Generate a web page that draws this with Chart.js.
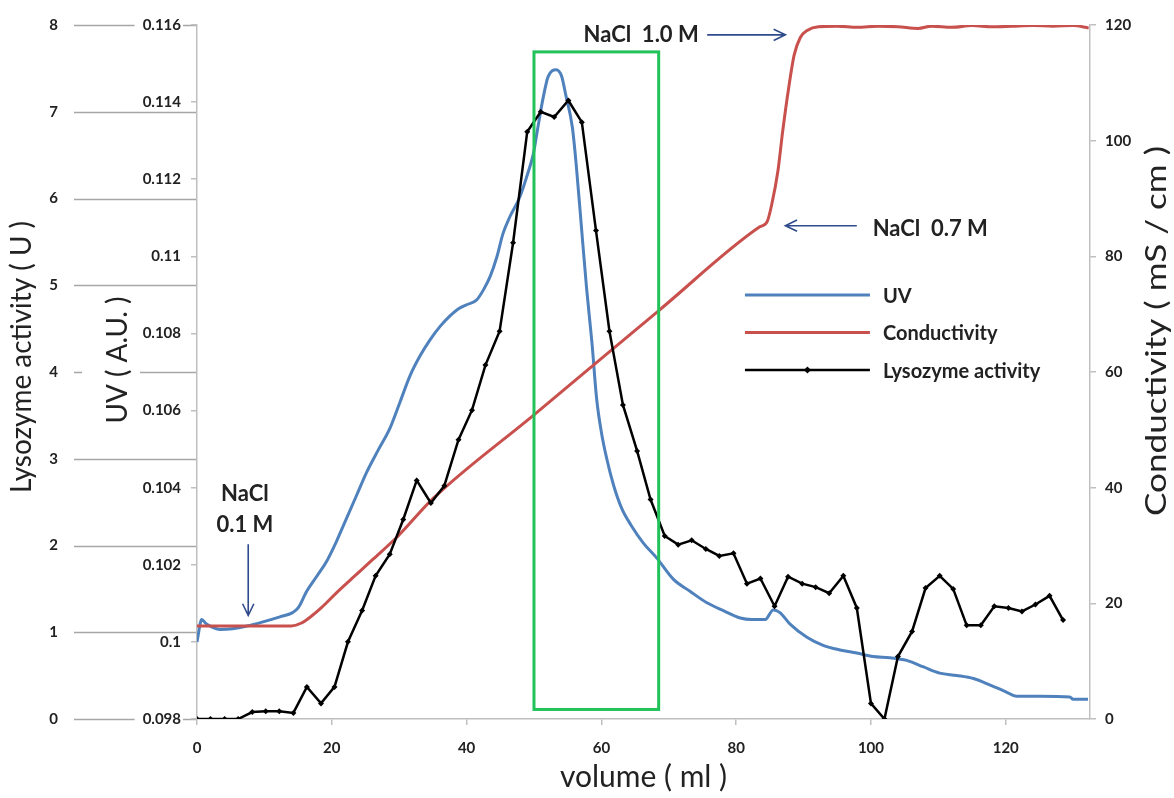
<!DOCTYPE html>
<html>
<head>
<meta charset="utf-8">
<script src="https://cdn.jsdelivr.net/npm/chart.js@4.4.1/dist/chart.umd.min.js"></script>
<style>
  html, body { margin: 0; padding: 0; background: #ffffff; }
  #wrap { width: 1174px; height: 798px; }
  canvas { display: block; }
</style>
</head>
<body>
<div id="wrap"><canvas id="chart" width="1174" height="798"></canvas></div>
<script>
// ---------- tick values and labels ----------
const volumeTicks = [0, 20, 40, 60, 80, 100, 120];
const activityTicks = [0, 1, 2, 3, 4, 5, 6, 7, 8];
const uvTicks = [0.098, 0.100, 0.102, 0.104, 0.106, 0.108, 0.110, 0.112, 0.114, 0.116];
const uvTickLabels = ['0.098', '0.1', '0.102', '0.104', '0.106', '0.108', '0.11', '0.112', '0.114', '0.116'];
const conductivityTicks = [0, 20, 40, 60, 80, 100, 120];

// ---------- lysozyme activity of the collected fractions (U) ----------
const lysoVolume = [0, 2.0, 4.1, 6.1, 8.2, 10.2, 12.2, 14.3, 16.3, 18.4, 20.4, 22.4, 24.5, 26.5, 28.6, 30.6,
  32.6, 34.7, 36.7, 38.8, 40.8, 42.8, 44.9, 46.9, 49.0, 51.0, 53.0, 55.1, 57.1, 59.2, 61.2, 63.2,
  65.3, 67.3, 69.4, 71.4, 73.4, 75.5, 77.5, 79.6, 81.6, 83.6, 85.7, 87.7, 89.8, 91.8, 93.8, 95.9,
  97.9, 100.0, 102.0, 104.0, 106.1, 108.1, 110.2, 112.2, 114.2, 116.3, 118.3, 120.4, 122.4, 124.4, 126.5, 128.5];
const lysoActivity = [0, 0, 0, 0, 0.08, 0.09, 0.09, 0.07, 0.37, 0.18, 0.37, 0.89, 1.25, 1.65, 1.90, 2.30,
  2.75, 2.49, 2.69, 3.22, 3.56, 4.08, 4.47, 5.49, 6.77, 7.00, 6.94, 7.13, 6.88, 5.63, 4.47, 3.62,
  3.09, 2.53, 2.11, 2.01, 2.06, 1.96, 1.88, 1.91, 1.56, 1.62, 1.30, 1.64, 1.56, 1.52, 1.45, 1.65,
  1.28, 0.18, 0.00, 0.72, 1.01, 1.51, 1.65, 1.50, 1.08, 1.08, 1.30, 1.28, 1.24, 1.32, 1.42, 1.14];

// ---------- UV trace (A.U.) ----------
const uvVolume = [0, 0.7, 1.3, 2.4, 3.4, 5.3, 7.4, 9.8, 12.3, 14.2, 15.0, 16.3, 17.8, 19.2, 20.7, 22.2,
  23.7, 25.2, 26.9, 28.6, 30.1, 31.6, 33.1, 34.6, 36.1, 37.5, 38.7, 40.1, 41.5, 42.5, 43.5, 44.5,
  45.4, 46.4, 47.9, 49.2, 49.9, 50.6, 51.4, 52.1, 53.3, 54.1, 54.7, 55.7, 56.3, 57.0, 57.8, 58.6,
  59.3, 60.0, 60.8, 61.8, 63.0, 64.5, 66.2, 68.2, 70.7, 73.1, 75.6, 78.1, 80.6, 82.3, 84.3, 85.5,
  86.5, 88.0, 90.5, 92.9, 95.4, 97.9, 100.3, 102.8, 105.3, 107.8, 110.2, 112.7, 115.2, 117.7, 120.1, 121.6,
  125.1, 129.5, 130.0, 132.2];
const uvAbsorbance = [0.1000, 0.10058, 0.10048, 0.10037, 0.10032, 0.10034, 0.10041, 0.10052, 0.10065, 0.10076,
  0.10088, 0.10132, 0.10171, 0.10208, 0.10261, 0.10321, 0.10381, 0.10441, 0.10498, 0.10553,
  0.10621, 0.10690, 0.10742, 0.10784, 0.10819, 0.10845, 0.10863, 0.10875, 0.10887, 0.10913,
  0.10948, 0.10999, 0.11059, 0.11102, 0.11154, 0.11222, 0.11265, 0.11337, 0.11415, 0.11466,
  0.11484, 0.11467, 0.11420, 0.11334, 0.11231, 0.11085, 0.10918, 0.10776, 0.10630, 0.10544,
  0.10475, 0.10407, 0.10347, 0.10300, 0.10257, 0.10218, 0.10162, 0.10132, 0.10102, 0.10081,
  0.10062, 0.10058, 0.10058, 0.10083, 0.10076, 0.10046, 0.10012, 0.09991, 0.09979, 0.09971,
  0.09962, 0.09959, 0.09952, 0.09935, 0.09919, 0.09913, 0.09905, 0.09888, 0.09870, 0.09859,
  0.09859, 0.09857, 0.09851, 0.09851];

// ---------- conductivity trace (mS/cm) ----------
const condVolume = [0, 14.0, 15.5, 17.0, 18.5, 20.5, 23.0, 26.0, 29.8, 35.0, 50.0, 57.0, 68.7, 83.5, 84.6,
  85.3, 86.2, 86.9, 87.8, 88.6, 89.5, 90.6, 92.2, 95, 98, 101, 104, 107, 109, 112, 115, 118, 121,
  124, 127, 130, 132.3];
const condValues = [16.1, 16.1, 16.6, 17.8, 19.3, 21.6, 24.3, 27.5, 31.6, 38.1, 52.6, 59.4, 70.8, 85.1, 86.0,
  89.1, 94.8, 101.6, 109.2, 114.8, 117.8, 119.1, 119.7, 119.8, 119.6, 119.8, 119.7, 119.4, 119.8, 119.6,
  119.9, 119.7, 119.8, 119.9, 119.8, 119.9, 119.5];

// ---------- pooled fractions (volume range) and window height on the activity axis ----------
const pooledVolume = [50.0, 68.5];
const pooledActivity = [0.11, 7.69];

// ---------- step annotations ----------
const saltNotes = [
  { lines: ['NaCl  1.0 M'], x: 65.9, y: 118.3 },
  { lines: ['NaCl  0.7 M'], x: 108.8, y: 84.8 },
  { lines: ['NaCl', '0.1 M'], x: 7.1, y: 39.0 }
];
const saltArrows = [
  { from: [75.7, 118.3], to: [87.3, 118.3] },
  { from: [97.9, 85.3], to: [87.3, 85.3] },
  { from: [7.6, 30.2], to: [7.6, 17.9] }
];

const AXIS_GREY = '#BFBFBF';
const TEXT = '#222222';
const FONT = 'Lato';
const tickFont = { family: FONT, weight: 'bold', size: 15 };

const toPoints = (xs, ys) => xs.map((x, i) => ({ x: x, y: ys[i] }));
const fixedTicks = (values) => (scale) => { scale.ticks = values.map(v => ({ value: v })); };

// rotated axis title; the text is laid out at `size` and stretched along its run to `length`
function drawVerticalTitle(ctx, text, cx, cy, size, length) {
  ctx.save();
  ctx.font = `normal ${size}px ${FONT}`;
  const natural = ctx.measureText(text).width;
  ctx.translate(cx, cy);
  ctx.rotate(-Math.PI / 2);
  ctx.scale(length / natural, 1);
  ctx.fillStyle = TEXT;
  ctx.textAlign = 'center';
  ctx.textBaseline = 'middle';
  ctx.fillText(text, 0, 0);
  ctx.restore();
}

function drawArrow(ctx, x1, y1, x2, y2) {
  const a = Math.atan2(y2 - y1, x2 - x1);
  const head = 13, spread = Math.PI / 7;
  ctx.beginPath();
  ctx.moveTo(x1, y1);
  ctx.lineTo(x2, y2);
  ctx.moveTo(x2 - head * Math.cos(a - spread), y2 - head * Math.sin(a - spread));
  ctx.lineTo(x2, y2);
  ctx.lineTo(x2 - head * Math.cos(a + spread), y2 - head * Math.sin(a + spread));
  ctx.stroke();
}

const decorations = {
  id: 'decorations',
  beforeDraw(chart) {
    const { ctx } = chart;
    const lyso = chart.scales.lyso, uv = chart.scales.uv;
    // guide lines of the activity axis, running across to the UV axis
    ctx.save();
    ctx.strokeStyle = '#A6A6A6';
    ctx.lineWidth = 1.5;
    activityTicks.forEach(v => {
      const y = Math.round(lyso.getPixelForValue(v)) + 0.5;
      ctx.beginPath();
      ctx.moveTo(lyso.right, y);
      ctx.lineTo(uv.right, y);
      ctx.stroke();
    });
    ctx.restore();
  },
  afterDatasetsDraw(chart) {
    const { ctx } = chart;
    const x = chart.scales.x, lyso = chart.scales.lyso;
    const l = x.getPixelForValue(pooledVolume[0]);
    const r = x.getPixelForValue(pooledVolume[1]);
    const t = lyso.getPixelForValue(pooledActivity[1]);
    const b = lyso.getPixelForValue(pooledActivity[0]);
    ctx.save();
    ctx.strokeStyle = '#22C25A';
    ctx.lineWidth = 3;
    ctx.strokeRect(l, t, r - l, b - t);
    ctx.restore();
  },
  afterDraw(chart) {
    const { ctx, chartArea } = chart;
    const { x, lyso, uv, cond } = chart.scales;
    const midY = (chartArea.top + chartArea.bottom) / 2;

    // axis titles
    const uvCx = uv.left + 44;
    ctx.save();
    ctx.fillStyle = '#ffffff';
    ctx.fillRect(uv.left + 8, midY - 80, 58, 150);
    ctx.restore();
    drawVerticalTitle(ctx, 'Lysozyme activity ( U )', lyso.left + 22, midY - 15, 28, 272);
    drawVerticalTitle(ctx, 'UV ( A.U. )', uvCx, midY - 12, 28, 127);
    drawVerticalTitle(ctx, 'Conductivity ( mS / cm )', cond.right - 17, midY - 41, 28, 370);

    // legend
    const lx = x.getPixelForValue(81.3);
    const ly = cond.getPixelForValue(73.3);
    ctx.save();
    ctx.font = `bold 20px ${FONT}`;
    ctx.textBaseline = 'middle';
    ctx.textAlign = 'left';
    chart.data.datasets.forEach((ds, i) => {
      const y = ly + i * 37.5;
      ctx.strokeStyle = ds.borderColor;
      ctx.lineWidth = ds.borderWidth;
      ctx.beginPath();
      ctx.moveTo(lx, y);
      ctx.lineTo(lx + 125, y);
      ctx.stroke();
      if (ds.pointRadius > 0) {
        const cx = lx + 62.5, r = ds.pointRadius + 0.5;
        ctx.fillStyle = ds.pointBackgroundColor;
        ctx.beginPath();
        ctx.moveTo(cx, y - r); ctx.lineTo(cx + r, y); ctx.lineTo(cx, y + r); ctx.lineTo(cx - r, y);
        ctx.closePath();
        ctx.fill();
      }
      ctx.fillStyle = TEXT;
      ctx.fillText(ds.label, lx + 138, y + 1);
    });
    ctx.restore();

    // NaCl step annotations
    ctx.save();
    ctx.font = `bold 22px ${FONT}`;
    ctx.fillStyle = TEXT;
    ctx.textAlign = 'center';
    ctx.textBaseline = 'middle';
    saltNotes.forEach(n => {
      const px = x.getPixelForValue(n.x);
      const py = cond.getPixelForValue(n.y);
      n.lines.forEach((line, i) => ctx.fillText(line, px, py + i * 31));
    });
    ctx.strokeStyle = '#2F4B8C';
    ctx.lineWidth = 1.6;
    saltArrows.forEach(a => {
      drawArrow(ctx,
        x.getPixelForValue(a.from[0]), cond.getPixelForValue(a.from[1]),
        x.getPixelForValue(a.to[0]), cond.getPixelForValue(a.to[1]));
    });
    ctx.restore();
  }
};

const axisGrid = { drawOnChartArea: false, drawTicks: true, tickLength: 6, color: AXIS_GREY, lineWidth: 1.5 };
const axisBorder = { color: AXIS_GREY, width: 1.5 };

new Chart(document.getElementById('chart'), {
  type: 'line',
  data: {
    datasets: [
      {
        label: 'UV',
        data: toPoints(uvVolume, uvAbsorbance),
        yAxisID: 'uv',
        borderColor: '#4F81BD',
        borderWidth: 3,
        pointRadius: 0,
        cubicInterpolationMode: 'monotone',
        order: 3
      },
      {
        label: 'Conductivity',
        data: toPoints(condVolume, condValues),
        yAxisID: 'cond',
        borderColor: '#C8504D',
        borderWidth: 3,
        pointRadius: 0,
        cubicInterpolationMode: 'monotone',
        order: 2
      },
      {
        label: 'Lysozyme activity',
        data: toPoints(lysoVolume, lysoActivity),
        yAxisID: 'lyso',
        borderColor: '#000000',
        borderWidth: 2.5,
        tension: 0,
        pointStyle: 'rectRot',
        pointRadius: 3,
        pointBackgroundColor: '#000000',
        pointBorderColor: '#000000',
        pointBorderWidth: 0,
        order: 1
      }
    ]
  },
  options: {
    responsive: false,
    animation: false,
    devicePixelRatio: 1,
    layout: { padding: { top: 20, right: 0, bottom: 0, left: 0 } },
    plugins: { legend: { display: false }, tooltip: { enabled: false }, title: { display: false } },
    scales: {
      x: {
        type: 'linear', position: 'bottom', min: 0, max: 132.5,
        afterBuildTicks: fixedTicks(volumeTicks),
        afterFit: (s) => { s.height = 79; },
        grid: axisGrid, border: axisBorder,
        ticks: { font: tickFont, color: TEXT, padding: 14, maxRotation: 0, autoSkip: false },
        title: { display: true, text: 'volume ( ml )', color: TEXT,
          font: { family: FONT, size: 30, weight: 'normal' }, padding: { top: 0, bottom: 3 } }
      },
      lyso: {
        type: 'linear', position: 'left', weight: 2, min: 0, max: 8,
        afterBuildTicks: fixedTicks(activityTicks),
        afterFit: (s) => { s.width = 74; },
        grid: { display: false, drawTicks: false, drawOnChartArea: false },
        border: { display: false },
        ticks: { font: tickFont, color: TEXT, padding: 16 }
      },
      uv: {
        type: 'linear', position: 'left', weight: 1, min: 0.098, max: 0.116,
        afterBuildTicks: fixedTicks(uvTicks),
        afterFit: (s) => { s.width = 123; },
        grid: axisGrid, border: axisBorder,
        ticks: {
          callback: (v, i) => uvTickLabels[i],
          font: { family: FONT, weight: 'bold', size: 15, lineHeight: 1 },
          color: TEXT, padding: 10,
          showLabelBackdrop: true, backdropColor: '#ffffff',
          backdropPadding: { left: 8, right: 2, top: 0, bottom: 0 }
        }
      },
      cond: {
        type: 'linear', position: 'right', min: 0, max: 120,
        afterBuildTicks: fixedTicks(conductivityTicks),
        afterFit: (s) => { s.width = 84; },
        grid: axisGrid, border: axisBorder,
        ticks: { font: tickFont, color: TEXT, padding: 9 }
      }
    }
  },
  plugins: [decorations]
});
</script>
</body>
</html>
